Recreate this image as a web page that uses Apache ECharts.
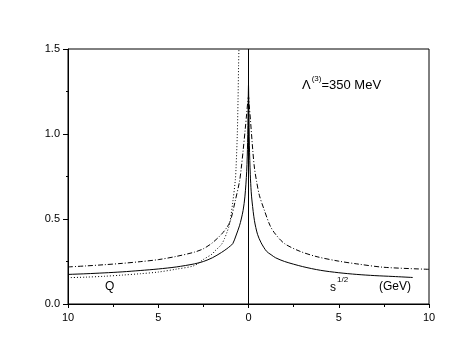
<!DOCTYPE html>
<html>
<head>
<meta charset="utf-8">
<script src="https://cdn.jsdelivr.net/npm/echarts@6/dist/echarts.min.js"></script>
<style>html,body{margin:0;padding:0;background:#fff}#c{width:474px;height:362px}</style>
</head>
<body>
<div id="c"></div>
<script>
// x < 0 : spacelike Q ; x > 0 : timelike s^1/2 (GeV)
const solidX = [-10,-9,-8,-7,-6,-5,-4,-3,-2.5,-2,-1.5,-1.2,-1.0,-0.87,-0.7,-0.5,-0.4,-0.3,-0.2,-0.1,-0.05,-0.02,0,0.02,0.05,0.1,0.15,0.2,0.33,0.5,0.7,1.0,1.25,1.5,2,3,4,5,6,7,8,9.1];
const solidY = [0.174,0.178,0.183,0.189,0.197,0.206,0.218,0.236,0.25,0.272,0.303,0.325,0.342,0.355,0.4,0.46,0.5,0.55,0.63,0.78,0.95,1.15,1.29,1.15,0.93,0.76,0.66,0.6,0.49,0.41,0.36,0.31,0.29,0.272,0.25,0.22,0.198,0.184,0.174,0.167,0.162,0.156];

const dashDotX = [-10,-9,-8,-7,-6,-5,-4,-3,-2.5,-2,-1.5,-1.2,-1.0,-0.75,-0.5,-0.4,-0.3,-0.18,-0.1,-0.04,0,0.04,0.11,0.24,0.33,0.45,0.6,0.85,1.2,1.5,2,2.85,3.8,5,6,7.5,10];
const dashDotY = [0.218,0.224,0.231,0.239,0.249,0.261,0.28,0.305,0.325,0.36,0.41,0.45,0.49,0.6,0.72,0.8,0.9,1.03,1.12,1.19,1.22,1.17,1.08,0.9,0.8,0.72,0.64,0.56,0.46,0.41,0.355,0.31,0.278,0.252,0.236,0.216,0.204];

const dottedX = [-10,-9,-8,-7,-6,-5,-4,-3,-2.5,-2,-1.88,-1.5,-1.33,-1.2,-1.05,-0.87,-0.73,-0.69,-0.62,-0.58,-0.55,-0.53];
const dottedY = [0.155,0.158,0.163,0.17,0.178,0.188,0.205,0.226,0.262,0.295,0.31,0.35,0.385,0.42,0.47,0.6,0.73,0.8,1.0,1.2,1.4,1.5];

const xTicks = [-10,-5,0,5,10];
const yTicks = [0.0,0.5,1.0,1.5];

const pairs = (xs, ys) => xs.map((x, i) => [x, ys[i]]);
const FONT = '"Liberation Sans", Arial, Helvetica, sans-serif';

const chart = echarts.init(document.getElementById('c'), null, {renderer: 'canvas'});
chart.setOption({
  animation: false,
  backgroundColor: '#fff',
  grid: {left: 68, right: 45, top: 49, bottom: 58, show: true, borderColor: '#000', borderWidth: 1, backgroundColor: 'transparent'},
  xAxis: {
    type: 'value', min: xTicks[0], max: xTicks[xTicks.length - 1], interval: 5,
    axisLine: {onZero: false, lineStyle: {color: '#000', width: 1}},
    axisTick: {show: true, length: 4, lineStyle: {color: '#000'}},
    minorTick: {show: true, splitNumber: 2, length: 3, lineStyle: {color: '#000'}},
    splitLine: {show: false},
    axisLabel: {color: '#000', fontFamily: FONT, fontSize: 11, margin: 8, formatter: v => String(Math.abs(v))}
  },
  yAxis: {
    type: 'value', min: yTicks[0], max: yTicks[yTicks.length - 1], interval: 0.5,
    axisLine: {show: true, onZero: false, lineStyle: {color: '#000', width: 1}},
    axisTick: {show: true, length: 5, lineStyle: {color: '#000'}},
    minorTick: {show: true, splitNumber: 2, length: 2, lineStyle: {color: '#000'}},
    splitLine: {show: false},
    axisLabel: {color: '#000', fontFamily: FONT, fontSize: 11, margin: 8, formatter: v => v.toFixed(1)}
  },
  series: [
    {type: 'line', data: pairs(solidX, solidY), showSymbol: false, symbol: 'none', smooth: 0.3,
     lineStyle: {color: '#000', width: 1},
     markLine: {silent: true, symbol: 'none', label: {show: false}, lineStyle: {color: '#000', width: 1, type: 'solid'}, data: [{xAxis: 0}]}},
    {type: 'line', data: pairs(dashDotX, dashDotY), showSymbol: false, symbol: 'none', smooth: 0.3,
     lineStyle: {color: '#000', width: 1, type: [5, 2, 1, 2]}},
    {type: 'line', data: pairs(dottedX, dottedY), showSymbol: false, symbol: 'none', smooth: 0.3,
     lineStyle: {color: '#000', width: 1, type: [1, 2]}}
  ],
  graphic: [
    {type: 'text', left: 105, top: 281, style: {text: 'Q', font: '12px ' + FONT, fill: '#000'}},
    {type: 'text', left: 330, top: 276, style: {text: '{a|s}{b|1/2}', fill: '#000',
      rich: {a: {fontFamily: FONT, fontSize: 12, verticalAlign: 'bottom', padding: [6,0,0,0]}, b: {fontFamily: FONT, fontSize: 8, verticalAlign: 'top', padding: [0,0,6,1]}}}},
    {type: 'text', left: 379, top: 281, style: {text: '(GeV)', font: '12px ' + FONT, fill: '#000'}},
    {type: 'text', left: 302, top: 75, style: {text: '{a|Λ}{b|(3)}{a|=350 MeV}', fill: '#000',
      rich: {a: {fontFamily: FONT, fontSize: 13, padding: [6,0,0,0]}, b: {fontFamily: FONT, fontSize: 8, padding: [0,0,6,1]}}}}
  ]
});
</script>
</body>
</html>
